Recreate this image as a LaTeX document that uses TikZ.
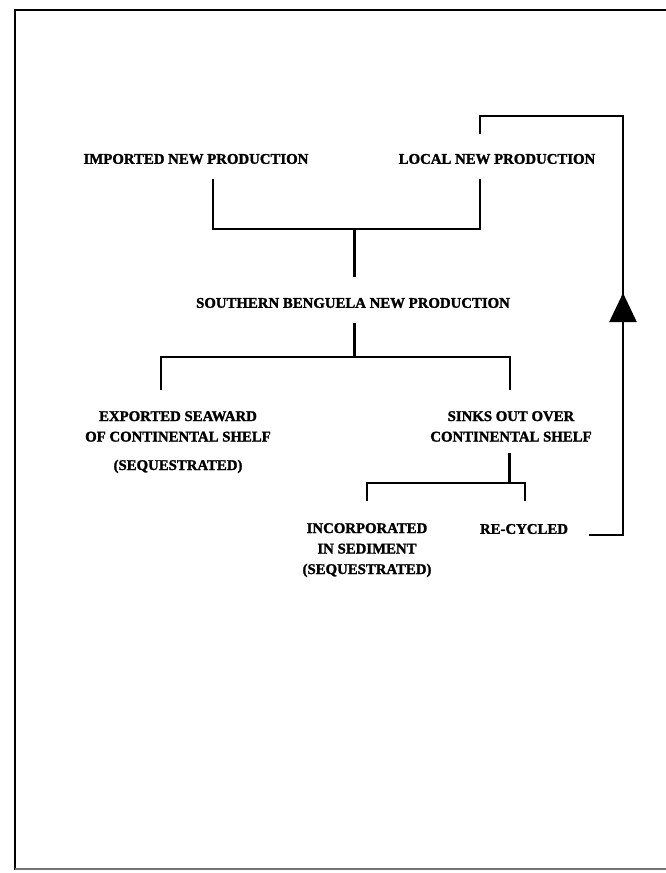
\documentclass[tikz,border=0pt]{standalone}
\usepackage{fontspec}
\setmainfont{Liberation Serif}[BoldFeatures={FakeBold=1.6}]
\usepackage{tikz}
\usetikzlibrary{arrows.meta,positioning,decorations.markings}

\begin{document}
\begin{tikzpicture}[x=1pt, y=-1pt,
                    lbl/.style={font=\fontsize{14.8}{20.5}\selectfont\bfseries,
                                inner sep=0pt, align=center},
                    link/.style={line width=2.4pt, line join=miter},
                    stem/.style={line width=3pt}]
    %\draw[help lines] (0,0) grid[step=50] (666,873);
   \useasboundingbox (0,0) rectangle (666,873);

   % frame
   \draw[line width=2.4pt] (15,870) -- (15,10) -- (666,10);
   \draw[line width=1.4pt, black!55] (15,869) -- (666,869);

   \node[lbl] (imported) at (196,159) {IMPORTED NEW PRODUCTION};
   \node[lbl] (local) at (497,159) {LOCAL NEW PRODUCTION};
   \node[lbl] (benguela) at (353,303) {SOUTHERN BENGUELA NEW PRODUCTION};
   \node[lbl, anchor=north] (exported) at (178,411)
        {EXPORTED SEAWARD\\OF CONTINENTAL SHELF\\[8pt](SEQUESTRATED)};
   \node[lbl, anchor=north] (sinks) at (511,411) {SINKS OUT OVER\\CONTINENTAL SHELF};
   \node[lbl, anchor=north] (sediment) at (367,523)
        {INCORPORATED\\IN SEDIMENT\\(SEQUESTRATED)};
   \node[lbl] (recycled) at (524,529) {RE-CYCLED};

   % joints and free ends
   \coordinate (imp_leg) at (213,179);
   \coordinate (loc_leg) at (480,179);
   \coordinate (top_join) at (354,229);
   \coordinate (ben_in) at (354,277);
   \coordinate (ben_out) at (354,323);
   \coordinate (mid_join) at (354,357);
   \coordinate (exp_leg) at (161,390);
   \coordinate (sink_leg) at (510,390);
   \coordinate (sink_out) at (509,453);
   \coordinate (low_join) at (509,483);
   \coordinate (sed_leg) at (367,501);
   \coordinate (rec_leg) at (525,501);
   \coordinate (rec_out) at (589,535);
   \coordinate (loop_top) at (623,116);
   \coordinate (loc_in) at (480,134);

   % Define connectors
   \draw[link] (imp_leg) |- (top_join) -| (loc_leg);
   \draw[stem] (top_join) -- (ben_in);
   \draw[stem] (ben_out) -- (mid_join);
   \draw[link] (exp_leg) |- (mid_join) -| (sink_leg);
   \draw[stem] (sink_out) -- (low_join);
   \draw[link] (sed_leg) |- (low_join) -| (rec_leg);

   % feed-back loop
   \draw[link, postaction={decorate},
         decoration={markings,
           mark=at position 276pt with {\arrow{Triangle[length=29pt,width=27pt]}}}]
     (rec_out) -| (loop_top) -| (loc_in);

\end{tikzpicture}
\end{document}
